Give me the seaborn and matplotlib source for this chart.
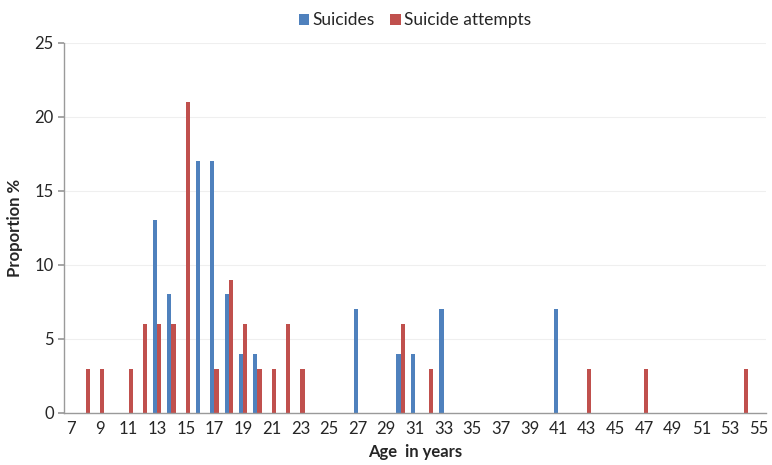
import pandas as pd
import matplotlib.pyplot as plt
import seaborn as sns

ages = list(range(7, 56))

suicide_ages = [13, 14, 16, 17, 18, 19, 20, 27, 30, 31, 33, 41]
suicide_vals = [13, 8, 17, 17, 8, 4, 4, 7, 4, 4, 7, 7]

attempt_ages = [8, 9, 11, 12, 13, 14, 15, 17, 18, 19, 20, 21, 22, 23, 30, 32, 43, 47, 54]
attempt_vals = [3, 3, 3, 6, 6, 6, 21, 3, 9, 6, 3, 3, 6, 3, 6, 3, 3, 3, 3]

series_names = ['Suicides', 'Suicide attempts']
colors = ['#4F81BD', '#C0504D']

rows = []
for a, v in zip(suicide_ages, suicide_vals):
    rows.append({'Age': a, 'Series': series_names[0], 'Value': v})
for a, v in zip(attempt_ages, attempt_vals):
    rows.append({'Age': a, 'Series': series_names[1], 'Value': v})
df = pd.DataFrame(rows)

sns.set_theme(style="white")
plt.rcParams['font.family'] = ['Lato', 'DejaVu Sans']

fig = plt.figure(figsize=(7.72, 4.65), dpi=100)
ax = fig.add_axes([0.083, 0.112, 0.909, 0.796])

sns.barplot(data=df, x='Age', y='Value', hue='Series', order=ages,
            hue_order=series_names, palette=colors, width=0.58,
            ax=ax, saturation=1, linewidth=0)

ax.set_xlim(-0.5, len(ages) - 0.5)
ax.set_ylim(0, 25)
ax.set_yticks([0, 5, 10, 15, 20, 25])
ax.yaxis.grid(True, color='#EFEFEF', linewidth=0.8)
ax.set_axisbelow(True)

ax.set_xticks(range(len(ages)))
ax.set_xticklabels([str(a) if a % 2 == 1 else '' for a in ages])
ax.tick_params(axis='x', length=0, labelsize=12, pad=6)
ax.tick_params(axis='y', length=4, color='#9A9A9A', labelsize=12, left=True, direction='out')

for s in ['top', 'right']:
    ax.spines[s].set_visible(False)
for s in ['left', 'bottom']:
    ax.spines[s].set_color('#9A9A9A')
    ax.spines[s].set_linewidth(1.0)

ax.set_xlabel('Age  in years', fontsize=12, fontweight='bold', labelpad=5)
ax.set_ylabel('Proportion %', fontsize=12, fontweight='bold', labelpad=8)

ax.legend(loc='upper center', bbox_to_anchor=(0.5, 1.125), ncol=2, frameon=False,
          fontsize=12.5, handlelength=0.6, handleheight=0.6, handletextpad=0.2,
          columnspacing=0.9)

fig.savefig('out.png', dpi=100)
